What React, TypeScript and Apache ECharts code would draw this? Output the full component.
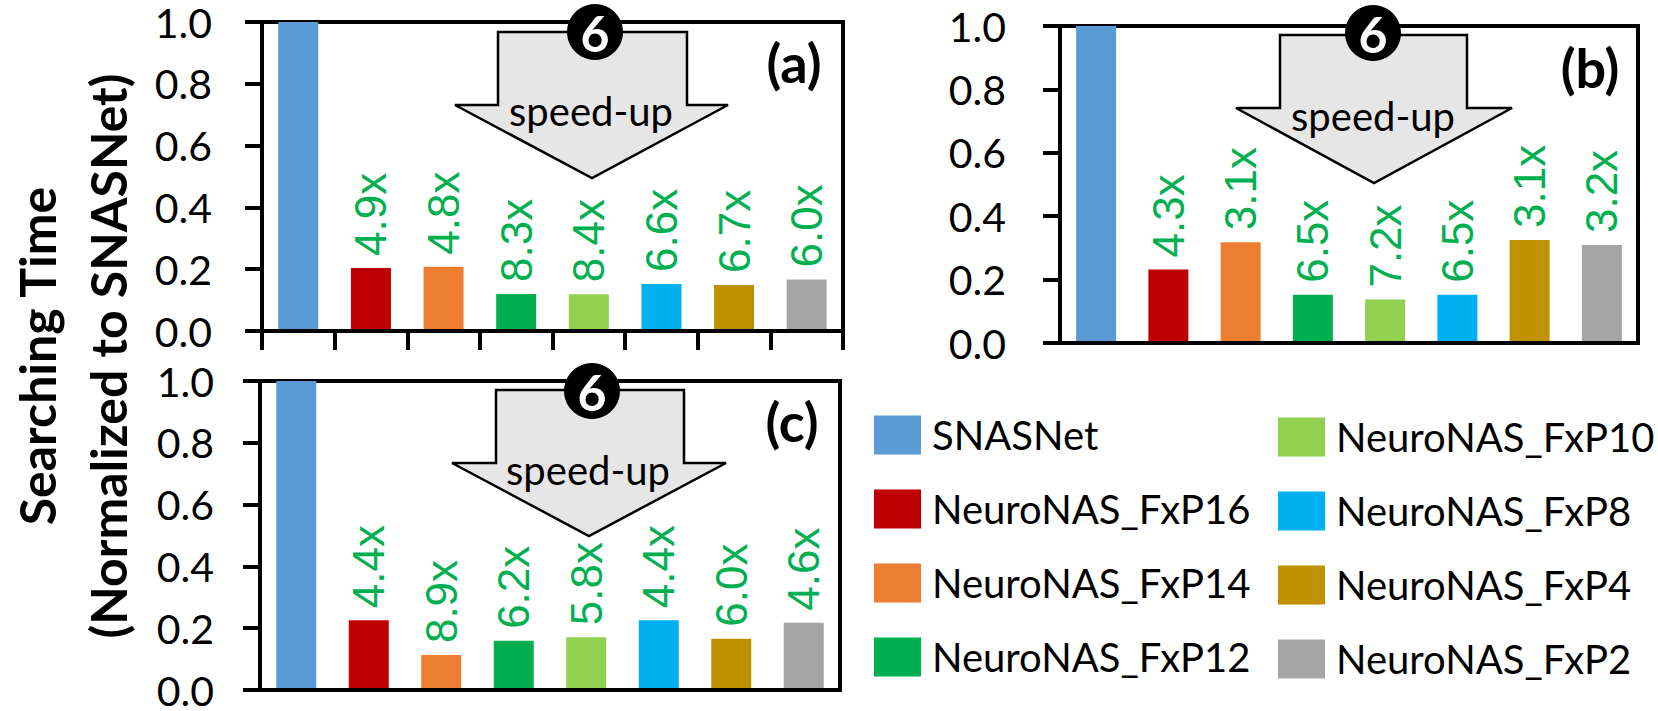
import React, { useEffect, useRef } from "react";
import * as echarts from "echarts";

const categories = [
  "SNASNet",
  "NeuroNAS_FxP16",
  "NeuroNAS_FxP14",
  "NeuroNAS_FxP12",
  "NeuroNAS_FxP10",
  "NeuroNAS_FxP8",
  "NeuroNAS_FxP4",
  "NeuroNAS_FxP2",
];
const colors = ["#5B9BD5", "#C00000", "#ED7D31", "#00B050", "#92D050", "#00B0F0", "#BF9000", "#A5A5A5"];

const valuesA = [1.0, 0.204, 0.208, 0.12, 0.119, 0.152, 0.149, 0.167];
const speedupA = ["", "4.9x", "4.8x", "8.3x", "8.4x", "6.6x", "6.7x", "6.0x"];
const valuesB = [1.0, 0.232, 0.318, 0.152, 0.137, 0.152, 0.325, 0.309];
const speedupB = ["", "4.3x", "3.1x", "6.5x", "7.2x", "6.5x", "3.1x", "3.2x"];
const valuesC = [1.0, 0.226, 0.113, 0.159, 0.171, 0.226, 0.166, 0.218];
const speedupC = ["", "4.4x", "8.9x", "6.2x", "5.8x", "4.4x", "6.0x", "4.6x"];

const panelTags = ["(a)", "(b)", "(c)"];
const yTitleLines = ["Searching Time", "(Normalized to SNASNet)"];
const arrowText = "speed-up";
const badge = "6";

const CAL = "Lato, 'Open Sans', sans-serif";
const ARIAL = "'Liberation Sans', Arial, sans-serif";

export default function App() {
  const ref = useRef<HTMLDivElement>(null);
  useEffect(() => {
    if (!ref.current) return;
    const chart = echarts.init(ref.current, undefined, { renderer: "svg" });

    const panels = [
      { values: valuesA, sp: speedupA, grid: { left: 262, top: 22, width: 581, height: 309 }, ticks: true, margin: 50 },
      { values: valuesB, sp: speedupB, grid: { left: 1060, top: 26, width: 578, height: 317 }, ticks: false, margin: 54 },
      { values: valuesC, sp: speedupC, grid: { left: 260, top: 381, width: 580, height: 309 }, ticks: false, margin: 46 },
    ];

    const grids = panels.map((p) => ({
      ...p.grid,
      show: true,
      borderColor: "#000",
      borderWidth: 4,
      backgroundColor: "transparent",
      containLabel: false,
    }));

    const xAxes = panels.map((p, k) => ({
      type: "category",
      gridIndex: k,
      data: categories,
      z: 3,
      axisLine: { show: true, lineStyle: { color: "#000", width: 4 } },
      axisTick: { show: p.ticks, interval: 0, length: 19, lineStyle: { color: "#000", width: 4 } },
      axisLabel: { show: false, interval: 0 },
    }));

    const yAxes = panels.map((p, k) => ({
      type: "value",
      gridIndex: k,
      min: 0,
      max: 1,
      interval: 0.2,
      z: 3,
      splitLine: { show: false },
      axisLine: { show: true, lineStyle: { color: "#000", width: 4 } },
      axisTick: { show: true, length: 17, lineStyle: { color: "#000", width: 4 } },
      axisLabel: {
        color: "#000",
        fontSize: 41,
        lineHeight: 30,
        fontFamily: CAL,
        margin: p.margin,
        formatter: (v: number) => v.toFixed(1),
      },
    }));

    const series: any[] = [];
    panels.forEach((p, k) => {
      categories.forEach((name, i) => {
        series.push({
          type: "bar",
          name,
          xAxisIndex: k,
          yAxisIndex: k,
          barWidth: 40,
          barGap: "-100%",
          itemStyle: { color: colors[i] },
          data: categories.map((_, j) => (j === i ? p.values[j] : "-")),
          label: {
            show: i > 0,
            position: "top",
            distance: 12,
            rotate: 90,
            align: "left",
            verticalAlign: "middle",
            color: "#00B050",
            fontSize: 44,
            fontFamily: ARIAL,
            formatter: () => p.sp[i],
          },
        });
      });
    });

    const arrows = [
      { pts: [[498, 32], [687, 32], [687, 105], [728, 105], [592, 178], [455, 105], [498, 105]], c: [595, 32], t: [591, 111] },
      { pts: [[1280, 35], [1467, 35], [1467, 108], [1512, 108], [1374, 183], [1236, 108], [1280, 108]], c: [1373, 33], t: [1373, 116] },
      { pts: [[496, 390], [684, 390], [684, 463], [726, 463], [589, 536], [452, 463], [496, 463]], c: [592, 391], t: [588, 470] },
    ];
    const tagPos = [[794, 62], [1590, 67], [792, 421]];

    const graphics: any[] = [];
    arrows.forEach((a, k) => {
      graphics.push({
        type: "polygon",
        z: 100,
        shape: { points: a.pts },
        style: { fill: "#E7E6E6", stroke: "#000", lineWidth: 2.5 },
      });
      graphics.push({
        type: "text",
        z: 101,
        x: a.t[0],
        y: a.t[1],
        style: {
          text: arrowText,
          fontSize: 40,
          fontFamily: CAL,
          fill: "#000",
          align: "center",
          verticalAlign: "middle",
          textAlign: "center",
          textVerticalAlign: "middle",
        },
      });
      graphics.push({
        type: "circle",
        z: 102,
        shape: { cx: a.c[0], cy: a.c[1], r: 28 },
        style: { fill: "#000" },
      });
      graphics.push({
        type: "text",
        z: 103,
        x: a.c[0],
        y: a.c[1] + 1,
        style: {
          text: badge,
          fontSize: 50,
          fontWeight: "bold",
          fontFamily: CAL,
          fill: "#fff",
          align: "center",
          verticalAlign: "middle",
          textAlign: "center",
          textVerticalAlign: "middle",
        },
      });
      graphics.push({
        type: "text",
        z: 103,
        x: tagPos[k][0],
        y: tagPos[k][1],
        style: {
          text: panelTags[k],
          fontSize: 54,
          fontWeight: "bold",
          fontFamily: CAL,
          fill: "#000",
          align: "center",
          verticalAlign: "middle",
          textAlign: "center",
          textVerticalAlign: "middle",
        },
      });
    });
    const titleX = [37, 108];
    yTitleLines.forEach((t, k) => {
      graphics.push({
        type: "text",
        z: 103,
        x: titleX[k],
        y: 356,
        rotation: Math.PI / 2,
        style: {
          text: t,
          fontSize: 50,
          fontWeight: "bold",
          fontFamily: CAL,
          fill: "#000",
          align: "center",
          verticalAlign: "middle",
          textAlign: "center",
          textVerticalAlign: "middle",
        },
      });
    });

    const legendBase = {
      orient: "vertical",
      itemWidth: 47,
      itemHeight: 39,
      itemGap: 34,
      icon: "rect",
      selectedMode: false,
      textStyle: { fontSize: 40, fontFamily: CAL, color: "#000", lineHeight: 39, padding: [0, 0, 0, 6] },
    };

    chart.setOption({
      animation: false,
      backgroundColor: "#fff",
      grid: grids,
      xAxis: xAxes,
      yAxis: yAxes,
      series,
      legend: [
        { ...legendBase, data: categories.slice(0, 4), left: 869, top: 410 },
        { ...legendBase, data: categories.slice(4), left: 1273, top: 412 },
      ],
      graphic: graphics,
    });
    return () => chart.dispose();
  }, []);
  return <div ref={ref} style={{ position: "fixed", left: 0, top: 0, width: 1658, height: 711 }} />;
}
